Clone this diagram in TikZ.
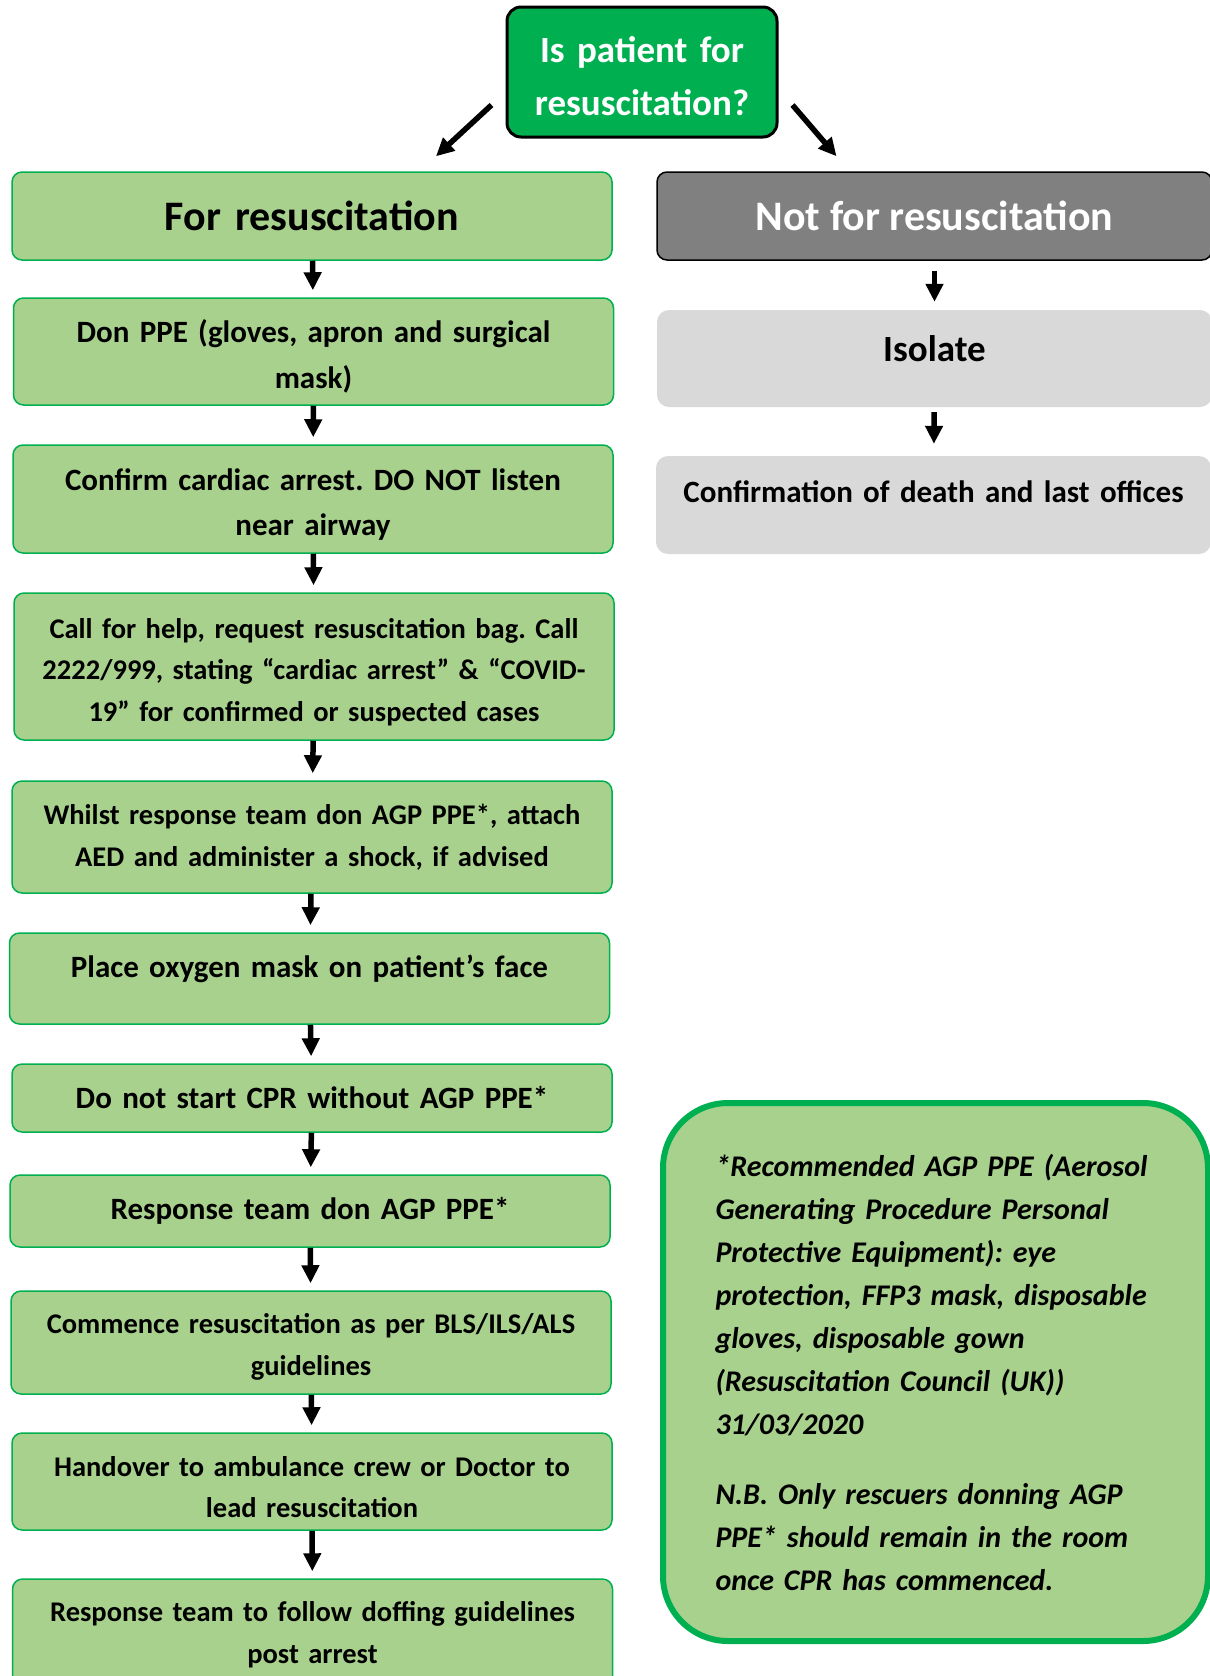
\documentclass[tikz,border=0pt]{standalone}
\usepackage{fontspec}
\setmainfont{Carlito}
\usepackage{tikz}
\usetikzlibrary{arrows.meta}

\definecolor{darkgreen}{HTML}{00B050}
\definecolor{lightgreen}{HTML}{A9D18E}
\definecolor{midgrey}{HTML}{808080}
\definecolor{palegrey}{HTML}{D9D9D9}

\frenchspacing

\begin{document}
\begin{tikzpicture}[x = 1pt, y = -1pt,
                    step box/.style = {rectangle, rounded corners = 10pt, draw = darkgreen, line width = 1.5pt,
                                       fill = lightgreen, inner sep = 0pt, align = center,
                                       text width = 600pt, font = \fontsize{31}{42}\selectfont\bfseries},
                    dense/.style = {font = \fontsize{28.5}{41.5}\selectfont\bfseries},
                    grey box/.style = {rectangle, rounded corners = 12pt, fill = palegrey, inner sep = 0pt,
                                       align = center, text width = 555pt, font = \fontsize{31}{42}\selectfont\bfseries},
                    arr/.style = {line width = 5.5pt, -{Triangle[width = 17pt, length = 18pt]}}]

\clip (0,0) rectangle (1210,1676);

% question
\node [rectangle, rounded corners = 14pt, draw = black, line width = 3pt, fill = darkgreen, text = white,
       inner sep = 0pt, text width = 270pt, minimum height = 130pt, align = center, text height = 35pt,
       font = \fontsize{37}{53}\selectfont\bfseries] (Q) at (642,72) {Is patient for\\resuscitation?};

% for resuscitation
\node [step box, minimum height = 88pt, font = \fontsize{42}{42}\selectfont\bfseries] (L1) at (312,216) {For resuscitation};
\node [step box, minimum height = 107pt, text height = 33pt, font = \fontsize{31}{46}\selectfont\bfseries] (L2) at (313.5,351.5) {Don PPE (gloves, apron and surgical\\mask)};
\node [step box, minimum height = 108pt, text height = 32pt, font = \fontsize{31}{45}\selectfont\bfseries] (L3) at (313,499) {Confirm cardiac arrest. DO NOT listen\\near airway};
\node [step box, dense, minimum height = 147pt, text height = 31pt] (L4) at (314,666.5) {Call for help, request resuscitation bag. Call\\2222/999, stating “cardiac arrest” \& “COVID-\\19” for confirmed or suspected cases};
\node [step box, dense, minimum height = 112pt] (L5) at (312,837) {Whilst response team don AGP PPE*, attach\\AED and administer a shock, if advised};
\node [step box, minimum height = 91pt, text depth = 24pt] (L6) at (309.5,978.5) {Place oxygen mask on patient’s face};
\node [step box, minimum height = 68pt] (L7) at (312,1098) {Do not start CPR without AGP PPE*};
\node [step box, minimum height = 72pt] (L8) at (310,1211) {Response team don AGP PPE*};
\node [step box, dense, minimum height = 103pt, text height = 29pt] (L9) at (311,1342.5) {Commence resuscitation as per BLS/ILS/ALS\\guidelines};
\node [step box, dense, minimum height = 97pt, text height = 31pt] (L10) at (312,1481.5) {Handover to ambulance crew or Doctor to\\lead resuscitation};
\node [step box, dense, minimum height = 111pt] (L11) at (312.5,1634.5) {Response team to follow doffing guidelines\\post arrest};

% not for resuscitation
\node [rectangle, rounded corners = 10pt, draw = black, line width = 1.5pt, fill = midgrey, text = white,
       minimum width = 555pt, minimum height = 88pt, inner sep = 0pt,
       font = \fontsize{42}{42}\selectfont\bfseries] (R1) at (934.5,216) {Not for resuscitation};
\node [grey box, minimum height = 97pt, text depth = 20pt, font = \fontsize{37}{42}\selectfont\bfseries] (R2) at (934.5,358.5) {Isolate};
\node [grey box, minimum height = 98pt, text depth = 26pt] (R3) at (933.5,505) {Confirmation of death and last offices};

% note
\node [rectangle, rounded corners = 65pt, draw = darkgreen, line width = 6pt, fill = lightgreen,
       minimum width = 545pt, minimum height = 538pt, text width = 440pt, align = left,
       font = \fontsize{30}{43}\selectfont\bfseries\itshape] (N) at (935.5,1372)
      {*Recommended AGP PPE (Aerosol\\Generating Procedure Personal\\Protective Equipment): eye\\protection, FFP3 mask, disposable\\gloves, disposable gown\\(Resuscitation Council (UK))\\31/03/2020\\[27pt]N.B. Only rescuers donning AGP\\PPE* should remain in the room\\once CPR has commenced.};

% arrows
\draw [arr] ([xshift = -14pt, yshift = -33pt]Q.west) -- ([xshift = 124pt, yshift = 15pt]L1.north);
\draw [arr] ([xshift = 14pt, yshift = -33pt]Q.east) -- ([xshift = -98pt, yshift = 15pt]R1.north);

\draw [arr, shorten >= 7pt] (L1) -- (L2);
\draw [arr, shorten >= 7pt] (L2) -- (L3);
\draw [arr, shorten >= 7pt] (L3) -- (L4);
\draw [arr, shorten >= 7pt] (L4) -- (L5);
\draw [arr, shorten >= 7pt] (L5) -- (L6);
\draw [arr, shorten >= 7pt] (L6) -- (L7);
\draw [arr, shorten >= 7pt] (L7) -- (L8);
\draw [arr, shorten >= 7pt] (L8) -- (L9);
\draw [arr, shorten >= 7pt] (L9) -- (L10);
\draw [arr, shorten >= 7pt] (L10) -- (L11);

\draw [arr, shorten <= 10pt, shorten >= 8pt] (R1) -- (R2);
\draw [arr, shorten <= 5pt, shorten >= 12pt] (R2) -- (R3);

\end{tikzpicture}
\end{document}
